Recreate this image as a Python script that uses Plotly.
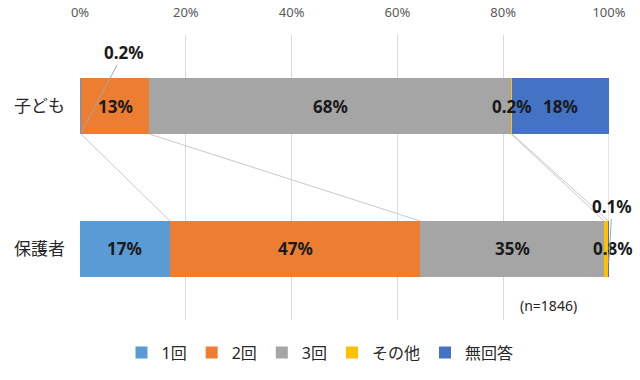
import plotly.graph_objects as go
import numpy as np

categories = ["子ども", "保護者"]
series_names = ["1回", "2回", "3回", "その他", "無回答"]
series_colors = ["#5B9BD5", "#ED7D31", "#A5A5A5", "#FFC000", "#4472C4"]
children = [0.2, 12.9, 68.4, 0.2, 18.3]
parents = [17.0, 47.3, 34.8, 0.8, 0.1]
x_ticks = [0, 20, 40, 60, 80, 100]
note_text = "(n=1846)"

values = {"子ども": children, "保護者": parents}
ypos = {"子ども": 1, "保護者": 0}
BAR_W = 0.39
FONT = "Noto Sans, Noto Sans CJK JP, sans-serif"

def fmt(v):
    return f"{v:.0f}%" if v >= 1 else f"{v:.1f}%"

fig = go.Figure()
for i, name in enumerate(series_names):
    fig.add_trace(go.Bar(
        y=[ypos[c] for c in categories],
        x=[values[c][i] for c in categories],
        name=name, orientation="h", width=BAR_W,
        marker=dict(color=series_colors[i], line=dict(width=0)),
        hoverinfo="skip",
    ))

# series connector lines between boundaries
top_cum = np.cumsum(children)
bot_cum = np.cumsum(parents)
shapes = []
for a, b in zip(top_cum, bot_cum):
    shapes.append(dict(type="line", xref="x", yref="y",
                       x0=a, y0=1 - BAR_W / 2, x1=b, y1=0 + BAR_W / 2,
                       line=dict(color="#c8c8c8", width=1), layer="below"))

annotations = []
lab_font = dict(family=FONT, size=17, color="#1a1a1a")
special = {
    ("子ども", 0): dict(x=8.3, y=1.38, arrow=True),
    ("保護者", 4): dict(x=100.6, y=0.30, arrow=True),
    ("保護者", 3): dict(xshift=7, arrow=False),
}
for c in categories:
    vals = values[c]
    cum = np.cumsum(vals)
    for i, v in enumerate(vals):
        mid = cum[i] - v / 2
        key = (c, i)
        txt = "<b>" + fmt(v) + "</b>"
        if key in special:
            s = special[key]
            if s["arrow"]:
                annotations.append(dict(
                    x=mid, y=ypos[c] - (BAR_W / 2 if c == "子ども" else 0.1),
                    xref="x", yref="y",
                    ax=s["x"], ay=s["y"], axref="x", ayref="y",
                    text=txt, font=lab_font,
                    showarrow=True, arrowhead=0, arrowwidth=1,
                    arrowcolor="#a6a6a6", standoff=0, startstandoff=0))
            else:
                annotations.append(dict(
                    x=mid, y=ypos[c], xref="x", yref="y", xshift=s["xshift"],
                    text=txt, font=lab_font, showarrow=False))
        else:
            annotations.append(dict(
                x=mid, y=ypos[c], xref="x", yref="y",
                text=txt, font=lab_font, showarrow=False))

annotations.append(dict(x=88.5, y=-0.4, xref="x", yref="y", text=note_text,
                        showarrow=False, font=dict(family=FONT, size=14, color="#262626")))

fig.update_layout(
    width=640, height=380,
    margin=dict(l=80, r=31, t=35, b=60),
    barmode="stack",
    plot_bgcolor="white", paper_bgcolor="white",
    shapes=shapes, annotations=annotations,
    showlegend=True,
    legend=dict(orientation="h", xref="container", yref="container",
                x=0.5, xanchor="center", y=0.072, yanchor="middle",
                font=dict(family=FONT, size=16, color="#262626"),
                itemwidth=30, traceorder="normal"),
    xaxis=dict(side="top", range=[0, 100], tickvals=x_ticks,
               ticktext=[f"{t}%" for t in x_ticks],
               showgrid=True, gridcolor="#d9d9d9", gridwidth=1,
               zeroline=False, showline=False, automargin=False,
               ticks="outside", ticklen=12, tickcolor="rgba(0,0,0,0)",
               tickfont=dict(family=FONT, size=13, color="#595959"),
               fixedrange=True),
    yaxis=dict(range=[-0.5, 1.5], tickvals=[ypos[c] for c in categories],
               ticktext=categories, showgrid=False, zeroline=False,
               showline=False, ticks="", automargin=False,
               tickfont=dict(family="Noto Sans CJK JP", size=17, color="#262626"),
               ticklabelstandoff=14, fixedrange=True),
)

fig.write_html("out.html", config={"displayModeBar": False},
               post_script="document.body.style.margin='0';document.body.style.padding='0';")
